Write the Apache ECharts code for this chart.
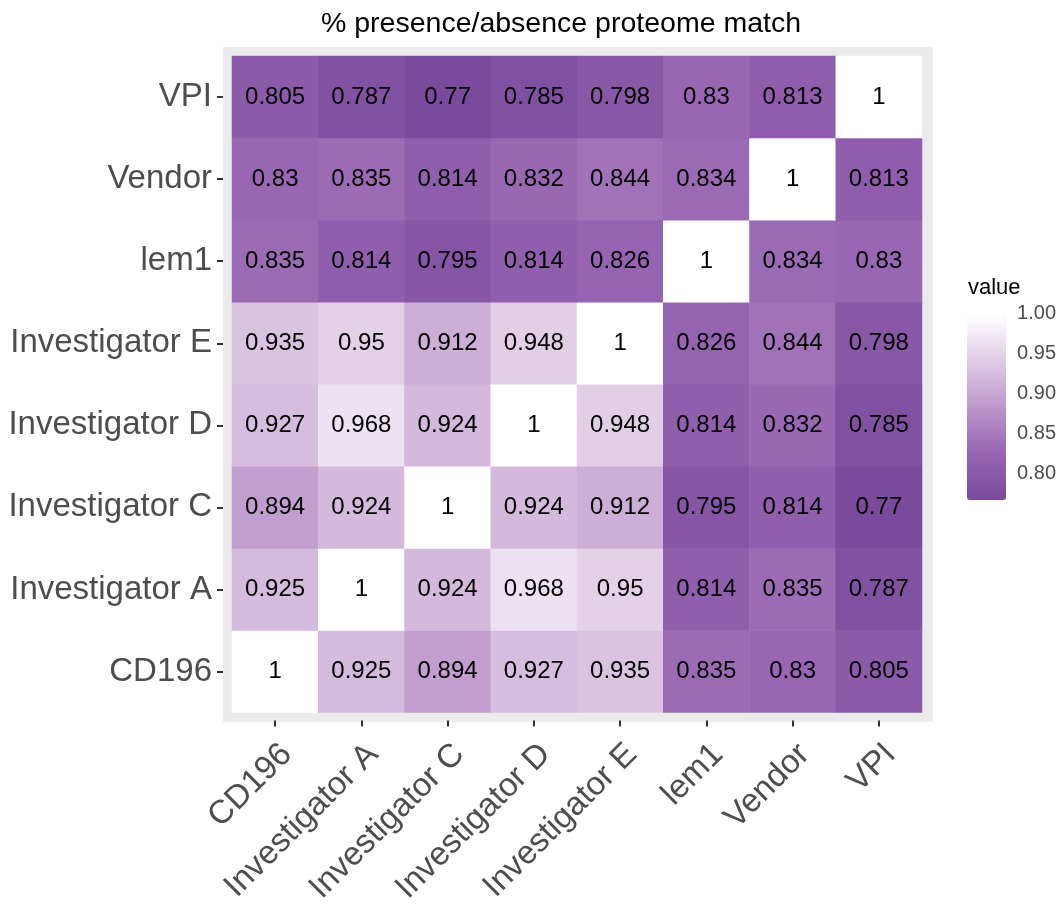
<!DOCTYPE html>
<html>
<head>
<meta charset="utf-8">
<script src="https://cdn.jsdelivr.net/npm/echarts@6/dist/echarts.min.js"></script>
<style>
  html, body { margin: 0; padding: 0; background: #fff; }
  #chart { width: 1059px; height: 907px; }
</style>
</head>
<body>
<div id="chart"></div>
<script>
// categories, same order on both axes (bottom to top / left to right)
const samples = ['CD196', 'Investigator A', 'Investigator C', 'Investigator D', 'Investigator E', 'lem1', 'Vendor', 'VPI']

// one row per sample (y), values across the x categories
const rowCD196 = [1, 0.925, 0.894, 0.927, 0.935, 0.835, 0.83, 0.805]
const rowInvA = [0.925, 1, 0.924, 0.968, 0.95, 0.814, 0.835, 0.787]
const rowInvC = [0.894, 0.924, 1, 0.924, 0.912, 0.795, 0.814, 0.77]
const rowInvD = [0.927, 0.968, 0.924, 1, 0.948, 0.814, 0.832, 0.785]
const rowInvE = [0.935, 0.95, 0.912, 0.948, 1, 0.826, 0.844, 0.798]
const rowLem1 = [0.835, 0.814, 0.795, 0.814, 0.826, 1, 0.834, 0.83]
const rowVendor = [0.83, 0.835, 0.814, 0.832, 0.844, 0.834, 1, 0.813]
const rowVPI = [0.805, 0.787, 0.77, 0.785, 0.798, 0.83, 0.813, 1]

const legendTicks = [0.8, 0.85, 0.9, 0.95, 1.0]
const valueMin = 0.77
const valueMax = 1.0

const rows = [rowCD196, rowInvA, rowInvC, rowInvD, rowInvE, rowLem1, rowVendor, rowVPI]
const cells = []
rows.forEach((row, y) => {
    row.forEach((v, x) => cells.push([x, y, v]))
})

const fontFamily = 'Liberation Sans, Arial, Helvetica, sans-serif'

const chart = echarts.init(document.getElementById('chart'))
chart.setOption({
    animation: false,
    backgroundColor: '#ffffff',
    textStyle: { fontFamily },
    title: [
        {
            text: '% presence/absence proteome match',
            left: 556, top: 5, textAlign: 'center',
            textStyle: { fontSize: 28.5, fontWeight: 'normal', color: '#000', fontFamily }
        },
        {
            text: 'value',
            left: 963, top: 272,
            textStyle: { fontSize: 22, fontWeight: 'normal', color: '#000', fontFamily }
        }
    ],
    // grey ggplot panel behind the tiles
    graphic: [{
        type: 'rect', z: -1, silent: true,
        shape: { x: 223, y: 47, width: 710, height: 675 },
        style: { fill: '#ebebeb' }
    }],
    grid: [
        { left: 232, right: 137, top: 56, bottom: 193 },
        { left: 967, top: 313, width: 39, height: 184 }
    ],
    xAxis: [
        {
            type: 'category', data: samples, gridIndex: 0,
            offset: 8,
            axisLine: { show: false },
            axisTick: { show: true, alignWithLabel: true, length: 6, lineStyle: { color: '#333', width: 2 } },
            axisLabel: { rotate: 45, verticalAlign: 'top', fontSize: 33, color: '#4d4d4d', margin: 17, interval: 0 },
            splitLine: { show: false }
        },
        { type: 'value', gridIndex: 1, show: false }
    ],
    yAxis: [
        {
            type: 'category', data: samples, gridIndex: 0,
            offset: 9,
            axisLine: { show: false },
            axisTick: { show: true, alignWithLabel: true, length: 6, lineStyle: { color: '#333', width: 2 } },
            axisLabel: { fontSize: 33, color: '#4d4d4d', margin: 11, interval: 0 },
            splitLine: { show: false }
        },
        {
            // colourbar scale for the legend labels
            type: 'value', gridIndex: 1, position: 'right',
            min: valueMin, max: valueMax,
            axisLine: { show: false },
            axisTick: { show: true, inside: true, length: 7, customValues: legendTicks, lineStyle: { color: '#fff', width: 1 } },
            axisLabel: {
                customValues: legendTicks, fontSize: 20, color: '#4d4d4d', margin: 12,
                formatter: v => v.toFixed(2)
            },
            splitLine: { show: false }
        }
    ],
    visualMap: {
        type: 'continuous',
        min: valueMin, max: valueMax,
        seriesIndex: 0,
        calculable: false,
        left: 952, top: 301,
        itemWidth: 39, itemHeight: 184,
        text: null,
        showLabel: false,
        inRange: { color: ['#7a4a9c', '#9664b1', '#bc96ca', '#dfcae5', '#ffffff'] }
    },
    series: [{
        type: 'heatmap',
        xAxisIndex: 0, yAxisIndex: 0,
        data: cells,
        label: {
            show: true, fontSize: 24, color: '#000', fontFamily,
            formatter: p => String(p.value[2])
        },
        itemStyle: { borderWidth: 0 },
        emphasis: { disabled: true }
    }]
})
</script>
</body>
</html>
